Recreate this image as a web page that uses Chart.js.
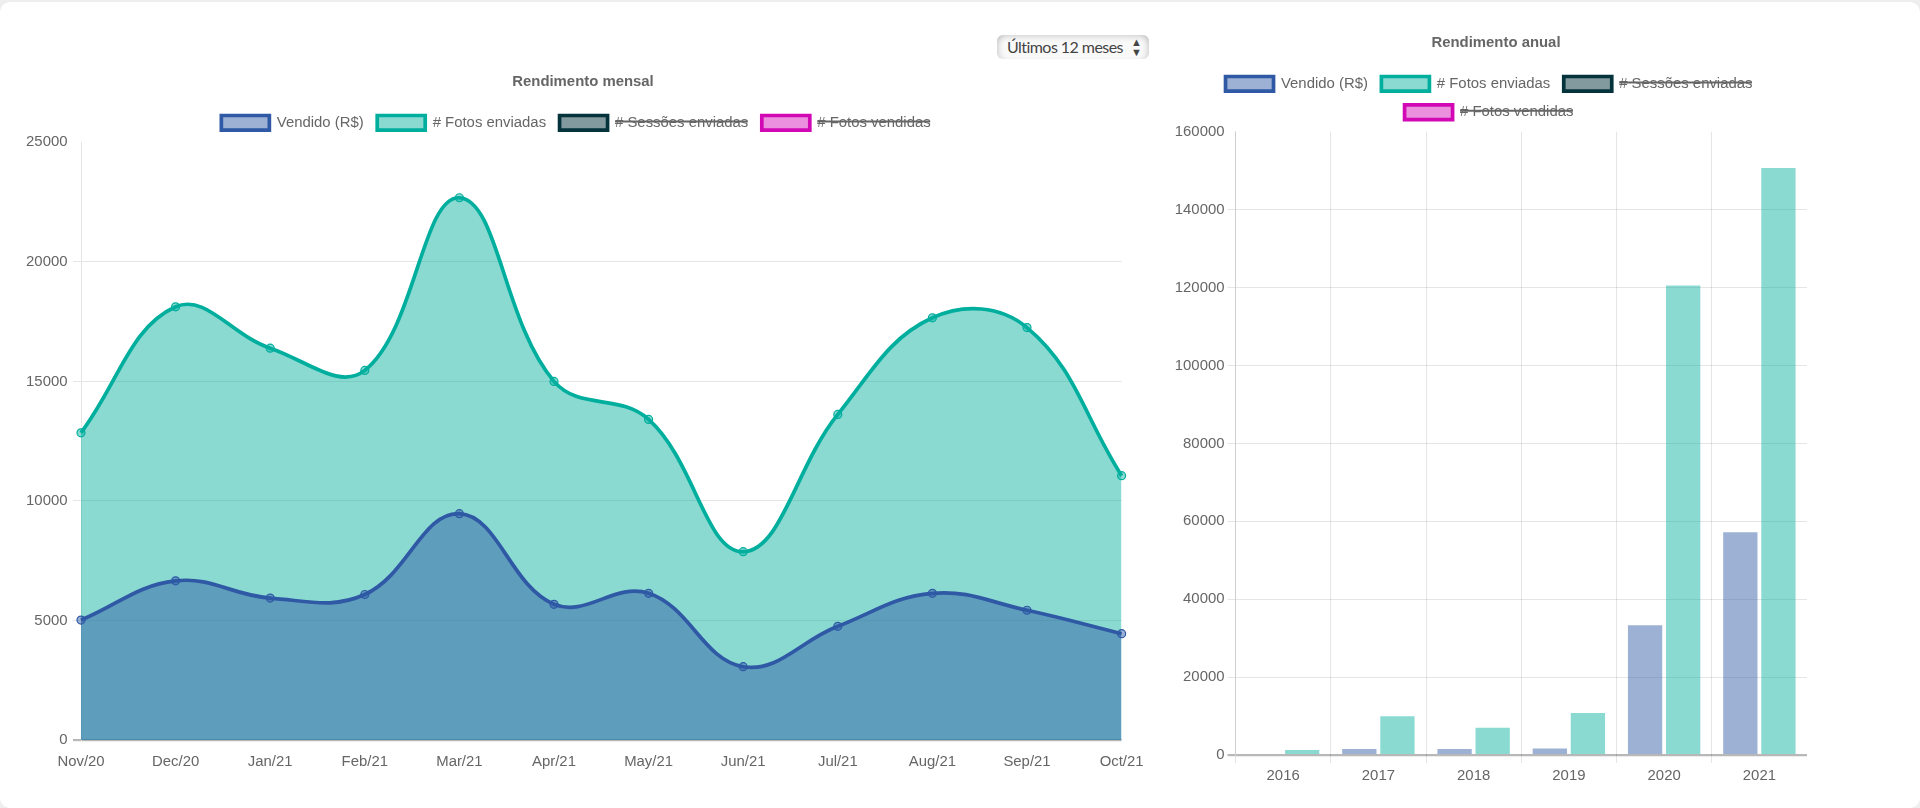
<!DOCTYPE HTML>
<html>
<head>
    <meta charset="utf-8">
    <script src="https://cdn.jsdelivr.net/npm/chart.js"></script>
    <style>
        html, body {
            margin: 0;
            padding: 0;
            width: 1920px;
            height: 808px;
            overflow: hidden;
            background: #eeeeee;
        }
        .card {
            position: absolute;
            left: 0;
            top: 2px;
            width: 1920px;
            height: 806px;
            background: white;
            border-radius: 10px;
        }
        .box {
            position: absolute;
        }
        #box-monthly { left: 0; top: 63px; width: 1166px; height: 719px; }
        #box-yearly { left: 1166px; top: 24px; width: 660px; height: 771px; }
        .period {
            position: absolute;
            left: 997px;
            top: 35px;
            width: 152px;
            height: 24px;
            line-height: 24px;
            box-sizing: border-box;
            padding-left: 10px;
            border-radius: 6px;
            background: #f9f9f9;
            box-shadow: inset 0 5px 6px -3px rgba(0, 0, 0, 0.14), inset 6px 0 6px -4px rgba(0, 0, 0, 0.14), inset -6px 0 6px -4px rgba(0, 0, 0, 0.14);
            font-family: Lato, sans-serif;
            font-size: 16px;
            letter-spacing: -0.55px;
            color: #444;
        }
        .period span {
            position: absolute;
            right: 7px;
            top: 2px;
            font-size: 11px;
            line-height: 10px;
            letter-spacing: 0;
            color: #444;
        }
    </style>
</head>
<body>
    <div class="card"></div>
    <div class="period">Últimos 12 meses<span>▲<br>▼</span></div>
    <div class="box" id="box-monthly"><canvas id="monthlyChart" width="1166" height="719"></canvas></div>
    <div class="box" id="box-yearly"><canvas id="yearlyChart" width="660" height="771"></canvas></div>

    <script>
        const months = ['Nov/20', 'Dec/20', 'Jan/21', 'Feb/21', 'Mar/21', 'Apr/21', 'May/21', 'Jun/21', 'Jul/21', 'Aug/21', 'Sep/21', 'Oct/21'];
        const monthlySold = [5020, 6660, 5940, 6090, 9470, 5680, 6140, 3070, 4760, 6140, 5430, 4450];
        const monthlyPhotos = [12850, 18120, 16390, 15460, 22680, 15000, 13410, 7880, 13620, 17660, 17250, 11060];

        const years = ['2016', '2017', '2018', '2019', '2020', '2021'];
        const yearlySold = [300, 1600, 1600, 1700, 33300, 57200];
        const yearlyPhotos = [1300, 10000, 7000, 10800, 120500, 150700];

        const BLUE = '#2f59a5', BLUE_FILL = 'rgba(47, 89, 165, 0.47)';
        const TEAL = '#00ae9e', TEAL_FILL = 'rgba(0, 174, 158, 0.46)';
        const DARK = '#05333c', DARK_FILL = 'rgba(5, 51, 60, 0.5)';
        const PINK = '#d208b5', PINK_FILL = 'rgba(210, 8, 181, 0.45)';

        Chart.defaults.font.family = '"Liberation Sans", Arial, sans-serif';
        Chart.defaults.font.size = 14.9;
        Chart.defaults.color = '#666';

        // the legend sits a bit left of the title and closer to it in the original
        const shiftLegend = {
            id: 'shiftLegend',
            afterLayout: function (chart) {
                chart.legend.left -= 7;
                chart.legend.right -= 7;
                chart.legend.top -= 2;
            }
        };

        function lineSet(label, data, color, fill, hidden) {
            return {
                label: label,
                data: data,
                hidden: hidden,
                borderColor: color,
                backgroundColor: fill,
                borderWidth: 3.7,
                tension: 0.4,
                fill: true,
                clip: false,
                pointRadius: 4,
                pointBorderWidth: 1.2,
                pointBackgroundColor: fill,
                pointBorderColor: color
            };
        }

        function barSet(label, data, color, fill, hidden) {
            return {
                label: label,
                data: data,
                hidden: hidden,
                borderColor: color,
                backgroundColor: fill,
                borderWidth: 0
            };
        }

        function legendOptions() {
            return {
                labels: {
                    boxWidth: 48,
                    boxHeight: 14.7,
                    padding: 13.5,
                    generateLabels: function (chart) {
                        const items = Chart.defaults.plugins.legend.labels.generateLabels(chart);
                        items.forEach(function (item) { item.lineWidth = 3.7; });
                        return items;
                    }
                }
            };
        }

        // no line at the top tick, a heavier one at zero
        function gridColorY(ctx) {
            if (!ctx.tick) return 'rgba(0, 0, 0, 0)';
            if (ctx.tick.value === 0) return 'rgba(0, 0, 0, 0.28)';
            return ctx.index === ctx.scale.ticks.length - 1 ? 'rgba(0, 0, 0, 0)' : 'rgba(0, 0, 0, 0.1)';
        }
        function gridWidthY(ctx) {
            return ctx.tick && ctx.tick.value === 0 ? 2.2 : 1;
        }
        // bar chart: the extra line after the last category is not drawn
        function gridColorX(ctx) {
            return ctx.tick ? 'rgba(0, 0, 0, 0.1)' : 'rgba(0, 0, 0, 0)';
        }

        new Chart(document.getElementById('monthlyChart').getContext('2d'), {
            type: 'line',
            data: {
                labels: months,
                datasets: [
                    lineSet('Vendido (R$)', monthlySold, BLUE, BLUE_FILL, false),
                    lineSet('# Fotos enviadas', monthlyPhotos, TEAL, TEAL_FILL, false),
                    lineSet('# Sessões enviadas', [], DARK, DARK_FILL, true),
                    lineSet('# Fotos vendidas', [], PINK, PINK_FILL, true)
                ]
            },
            plugins: [shiftLegend],
            options: {
                responsive: false,
                animation: false,
                layout: { padding: { bottom: 6 } },
                plugins: {
                    title: { display: true, text: 'Rendimento mensal', padding: { top: 10, bottom: 13 } },
                    legend: legendOptions()
                },
                scales: {
                    x: {
                        grid: { display: false },
                        border: { display: false },
                        ticks: { padding: 5, maxRotation: 0 },
                        afterFit: function (axis) { axis.paddingRight = 44.4; }
                    },
                    y: {
                        min: 0,
                        max: 25000,
                        grid: { color: gridColorY, lineWidth: gridWidthY },
                        ticks: { stepSize: 5000, padding: 5.5, callback: function (v) { return String(v); } },
                        afterFit: function (axis) { axis.width = 81; }
                    }
                }
            }
        });

        new Chart(document.getElementById('yearlyChart').getContext('2d'), {
            type: 'bar',
            data: {
                labels: years,
                datasets: [
                    barSet('Vendido (R$)', yearlySold, BLUE, BLUE_FILL, false),
                    barSet('# Fotos enviadas', yearlyPhotos, TEAL, TEAL_FILL, false),
                    barSet('# Sessões enviadas', [], DARK, DARK_FILL, true),
                    barSet('# Fotos vendidas', [], PINK, PINK_FILL, true)
                ]
            },
            plugins: [shiftLegend],
            options: {
                responsive: false,
                animation: false,
                layout: { padding: { bottom: 6 } },
                plugins: {
                    title: { display: true, text: 'Rendimento anual', padding: { top: 10, bottom: 13 } },
                    legend: legendOptions()
                },
                scales: {
                    x: {
                        grid: { color: gridColorX },
                        border: { display: false },
                        ticks: { padding: 4 },
                        afterFit: function (axis) { axis.paddingRight = 19; }
                    },
                    y: {
                        min: 0,
                        max: 160000,
                        grid: { color: gridColorY, lineWidth: gridWidthY },
                        ticks: { stepSize: 20000, callback: function (v) { return String(v); } },
                        afterFit: function (axis) { axis.width = 69.5; }
                    }
                }
            }
        });
    </script>
</body>
</html>
